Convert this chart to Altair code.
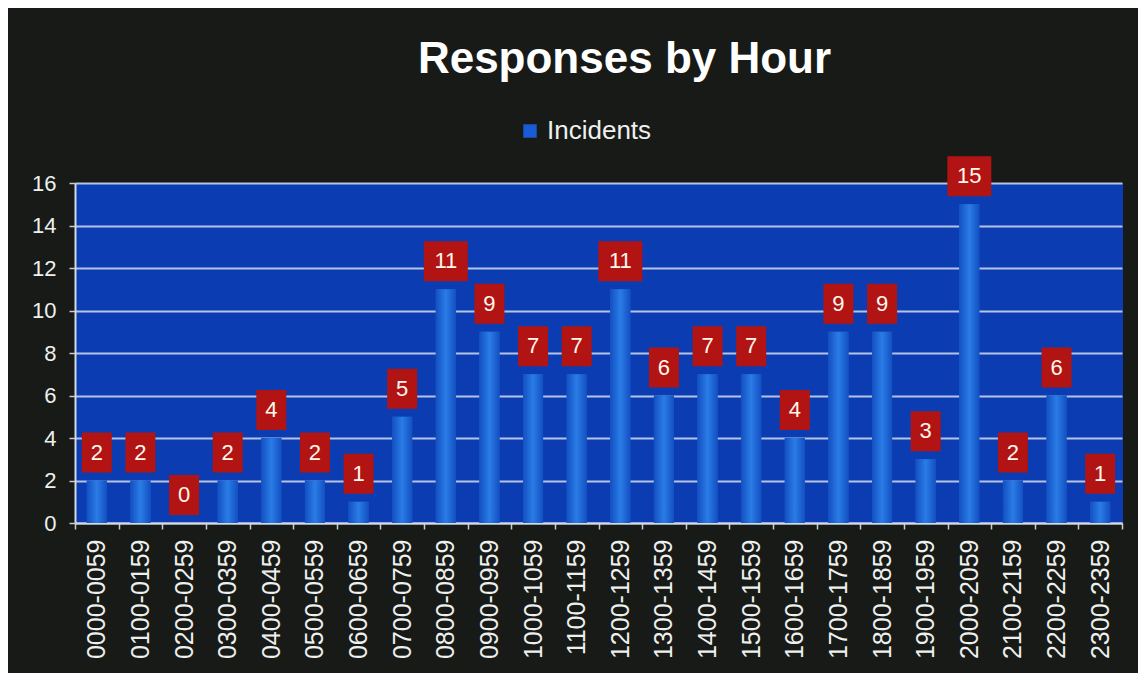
import altair as alt
import pandas as pd

hours = ["0000-0059", "0100-0159", "0200-0259", "0300-0359", "0400-0459",
         "0500-0559", "0600-0659", "0700-0759", "0800-0859", "0900-0959",
         "1000-1059", "1100-1159", "1200-1259", "1300-1359", "1400-1459",
         "1500-1559", "1600-1659", "1700-1759", "1800-1859", "1900-1959",
         "2000-2059", "2100-2159", "2200-2259", "2300-2359"]
incidents = [2, 2, 0, 2, 4, 2, 1, 5, 11, 9, 7, 7, 11, 6, 7, 7, 4, 9, 9, 3, 15, 2, 6, 1]
series = ["Incidents"] * len(hours)
y_ticks = [0, 2, 4, 6, 8, 10, 12, 14, 16]

df = pd.DataFrame({"hour": hours, "n": incidents, "series": series})

FONT = "Liberation Sans"
LIGHT = "#eef0ee"

x_full = alt.X(
    "hour:N", sort=hours,
    scale=alt.Scale(paddingInner=0, paddingOuter=0),
    axis=alt.Axis(title=None, labelAngle=270, labelFontSize=25, labelColor=LIGHT,
                  labelFont=FONT, labelPadding=10, tickSize=6, tickBand="extent",
                  tickColor="#c8ccd0", tickWidth=1.5, domainColor="#d4dae4",
                  domainWidth=2, grid=False),
)
y_full = alt.Y(
    "n:Q", scale=alt.Scale(domain=[0, 16]),
    axis=alt.Axis(title=None, values=y_ticks, labelFontSize=22, labelColor=LIGHT,
                  labelFont=FONT, labelPadding=13, tickSize=6, tickColor="#c8ccd0",
                  tickWidth=1.5, gridColor="#c9d3e8", gridWidth=2, gridOpacity=0.9,
                  domainColor="#d4dae4", domainWidth=2),
)
x = alt.X("hour:N", sort=hours)
y = alt.Y("n:Q")

base = alt.Chart(df)

bars_legend = base.mark_bar(width=alt.RelativeBandSize(0.46)).encode(
    x=x_full, y=y_full,
    color=alt.Color("series:N", scale=alt.Scale(range=["#1a5cd6"]),
                    legend=alt.Legend(title=None, orient="none", legendX=442, legendY=-65,
                                      symbolType="square", symbolSize=180,
                                      symbolStrokeWidth=0, labelFontSize=26,
                                      labelColor=LIGHT, labelFont=FONT, padding=0,
                                      labelOffset=4)),
)

bars_grad = base.mark_bar(
    width=alt.RelativeBandSize(0.46),
    color=alt.Gradient(gradient="linear", x1=0, x2=1, y1=0, y2=0,
                       stops=[alt.GradientStop(color="#1350c2", offset=0),
                              alt.GradientStop(color="#2a7ce6", offset=0.5),
                              alt.GradientStop(color="#1350c2", offset=1)]),
).encode(x=x, y=y)

box_small = base.transform_filter("datum.n < 10").mark_point(
    shape="M-0.75,-1H0.75V1H-0.75Z", size=1600, filled=True, fill="#b21414",
    opacity=1, strokeWidth=0, yOffset=-28,
).encode(x=x, y=y)

box_big = base.transform_filter("datum.n >= 10").mark_point(
    shape="M-1.1,-1H1.1V1H-1.1Z", size=1600, filled=True, fill="#b21414",
    opacity=1, strokeWidth=0, yOffset=-28,
).encode(x=x, y=y)

labels = base.mark_text(
    fontSize=22, font=FONT, color="#fff8ec", yOffset=-28, baseline="middle",
    align="center",
).encode(x=x, y=y, text="n:Q")

chart = alt.layer(bars_legend, bars_grad, box_small, box_big, labels).properties(
    width=1047,
    height=340,
    title=alt.Title("Responses by Hour", fontSize=44, font=FONT, fontWeight="bold",
                    color="white", anchor="middle", frame="group", offset=36, dx=26),
    background="#171a17",
    padding={"left": 67, "top": 175, "right": 16, "bottom": 150},
    autosize=alt.AutoSizeParams(type="none"),
).configure_view(fill="#0b3cb2", stroke="#0b3cb2")

chart.save("out.html", embed_options={"renderer": "svg", "actions": False})
